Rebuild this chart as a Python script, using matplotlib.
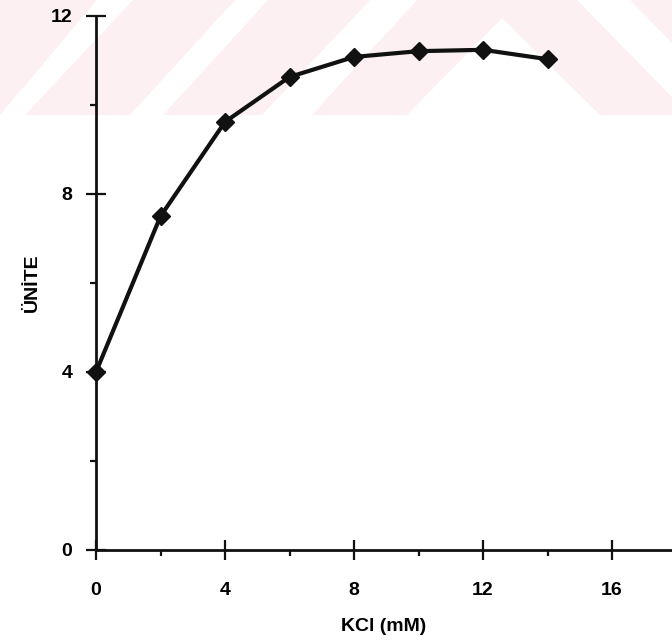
import matplotlib.pyplot as plt
from matplotlib.patches import Polygon
from matplotlib.ticker import MultipleLocator

kcl = [0, 2, 4, 6, 8, 10, 12, 14]
unite = [4.0, 7.5, 9.62, 10.63, 11.08, 11.21, 11.24, 11.03]
x_ticks = [0, 4, 8, 12, 16]
y_ticks = [0, 4, 8, 12]

W, H = 672, 641
fig = plt.figure(figsize=(W / 100, H / 100), dpi=100)

# faint pink watermark band at the top, in a background axes (pixel coords, y down)
bg = fig.add_axes([0, 0, 1, 1], zorder=-1)
bg.set_xlim(0, W)
bg.set_ylim(H, 0)
bg.axis('off')

pink = '#fdf0f2'
bg.add_patch(Polygon([(0, 0), (W, 0), (W, 115), (0, 115)],
                     facecolor=pink, edgecolor='none'))
white_shapes = [
    [(0, 115), (25, 115), (133, 0), (97, 0)],
    [(130, 115), (163, 115), (268, 0), (235, 0)],
    [(262, 115), (312, 115), (417, 0), (370, 0)],
    [(407, 115), (502, 18), (600, 115)],
    [(577, 0), (630, 0), (672, 43), (672, 97)],
]
for shp in white_shapes:
    bg.add_patch(Polygon(shp, facecolor='white', edgecolor='none'))

ax = fig.add_axes([96 / W, 1 - 550 / H, 1 - 96 / W, (550 - 16) / H])
ax.set_facecolor('none')

ax.plot(kcl, unite, color='#111111', lw=3, marker='D', markersize=9,
        clip_on=False, zorder=5)

ax.set_xlim(0, (W - 96) / 32.25)
ax.set_ylim(0, 12)
ax.set_xticks(x_ticks)
ax.set_yticks(y_ticks)
ax.xaxis.set_minor_locator(MultipleLocator(2))
ax.yaxis.set_minor_locator(MultipleLocator(2))

for s in ['top', 'right']:
    ax.spines[s].set_visible(False)
for s in ['left', 'bottom']:
    ax.spines[s].set_linewidth(2)
    ax.spines[s].set_color('#111111')

ax.tick_params(which='major', direction='inout', length=14, width=1.6,
               color='#111111')
ax.tick_params(which='minor', direction='out', length=4, width=1.6,
               color='#111111')
ax.tick_params(axis='x', which='major', pad=16)
ax.tick_params(axis='y', which='major', pad=10)

tick_font = dict(family='Liberation Sans', weight='bold', size=14)
for lab in ax.get_xticklabels() + ax.get_yticklabels():
    lab.set_fontfamily('Liberation Sans')
    lab.set_fontweight('bold')
    lab.set_fontsize(14)

ax.set_xlabel('KCl (mM)', fontdict=tick_font, labelpad=14)
ax.set_ylabel('ÜNİTE', fontdict=tick_font, labelpad=7)

fig.savefig('out.png', dpi=100)
